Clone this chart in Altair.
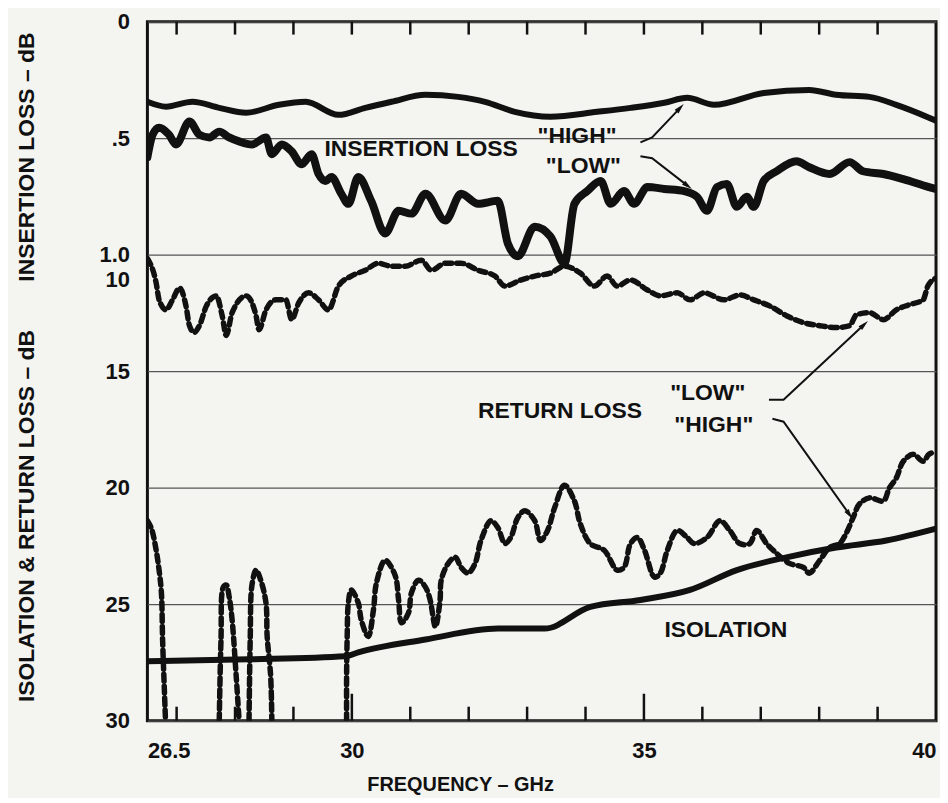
import math
import altair as alt
import pandas as pd

# ---------------- values ----------------
# Insertion loss (dB, top panel 0 .. 1.0 dB)
IL_HIGH_GHZ = [26.50, 26.82, 27.27, 27.73, 28.19, 28.75, 29.21, 29.77, 30.23, 30.68,
               31.26, 31.82, 32.28, 32.79, 33.40, 34.20, 34.77, 35.35, 35.74, 36.20,
               37.05, 37.83, 38.29, 38.86, 39.32, 39.88, 40.00]
IL_HIGH_DB = [0.344, 0.365, 0.344, 0.370, 0.391, 0.357, 0.344, 0.400, 0.370, 0.344,
              0.314, 0.323, 0.344, 0.387, 0.408, 0.387, 0.370, 0.348, 0.327, 0.357,
              0.306, 0.293, 0.314, 0.323, 0.357, 0.412, 0.425]

IL_LOW_GHZ = [26.50, 26.59, 26.70, 26.87, 26.99, 27.22, 27.39, 27.56, 27.73, 27.90,
              28.07, 28.29, 28.53, 28.63, 28.80, 28.97, 29.14, 29.31, 29.43, 29.55,
              29.65, 29.82, 29.94, 30.11, 30.33, 30.57, 30.80, 31.02, 31.26, 31.60,
              31.87, 32.16, 32.50, 32.67, 32.84, 33.13, 33.40, 33.64, 33.81, 34.03,
              34.26, 34.43, 34.66, 34.83, 35.06, 35.35, 35.69, 35.91, 36.08, 36.25,
              36.42, 36.59, 36.76, 36.88, 37.05, 37.27, 37.61, 37.83, 38.18, 38.52,
              38.75, 39.10, 39.44, 39.88, 40.00]
IL_LOW_DB = [0.582, 0.485, 0.455, 0.485, 0.527, 0.429, 0.485, 0.497, 0.472, 0.497,
             0.514, 0.527, 0.497, 0.569, 0.527, 0.557, 0.612, 0.569, 0.654, 0.684,
             0.667, 0.739, 0.782, 0.667, 0.769, 0.909, 0.812, 0.824, 0.739, 0.854,
             0.739, 0.782, 0.769, 0.952, 1.007, 0.880, 0.922, 1.037, 0.782, 0.727,
             0.684, 0.782, 0.727, 0.782, 0.710, 0.718, 0.727, 0.752, 0.812, 0.710,
             0.697, 0.795, 0.752, 0.795, 0.684, 0.642, 0.599, 0.625, 0.654, 0.603,
             0.642, 0.654, 0.676, 0.710, 0.718]

# Return loss (dB, bottom panel 10 .. 30 dB)
RL_LOW_GHZ = [26.50, 26.65, 26.70, 26.82, 26.93, 27.05, 27.16, 27.22, 27.30, 27.39,
              27.51, 27.68, 27.78, 27.85, 27.95, 28.19, 28.36, 28.41, 28.53, 28.70,
              28.87, 28.97, 29.09, 29.26, 29.43, 29.60, 29.77, 29.99, 30.23, 30.45,
              30.68, 30.91, 31.19, 31.36, 31.60, 31.87, 32.16, 32.45, 32.62, 32.89,
              33.13, 33.40, 33.64, 33.91, 34.15, 34.37, 34.54, 34.77, 35.06, 35.28,
              35.57, 35.79, 36.03, 36.37, 36.64, 36.88, 37.15, 37.44, 37.73, 38.01,
              38.29, 38.52, 38.64, 38.86, 39.10, 39.32, 39.54, 39.78, 39.86, 40.00]
RL_LOW_DB = [10.16, 11.22, 11.94, 12.37, 11.94, 11.43, 12.20, 13.05, 13.34, 13.05,
             12.20, 11.77, 12.62, 13.47, 12.49, 11.77, 12.62, 13.22, 12.37, 11.94,
             11.94, 12.79, 12.07, 11.64, 11.94, 12.37, 11.35, 10.92, 10.67, 10.37,
             10.50, 10.50, 10.24, 10.67, 10.37, 10.37, 10.67, 10.92, 11.35, 11.09,
             10.92, 10.79, 10.50, 10.79, 11.35, 10.92, 11.35, 11.09, 11.52, 11.77,
             11.64, 11.94, 11.64, 11.94, 11.73, 11.94, 12.20, 12.62, 12.92, 13.05,
             13.13, 13.05, 12.58, 12.49, 12.79, 12.37, 12.15, 11.94, 11.35, 11.01]

# "HIGH" return loss: the trace runs off the 30 dB edge, so it comes in pieces
RL_HIGH_SEG = ([1] * 8) + ([2] * 8) + ([3] * 9) + ([4] * 80)
RL_HIGH_GHZ = [26.50, 26.57, 26.65, 26.70, 26.74, 26.76, 26.79, 26.81,
               27.73, 27.76, 27.80, 27.85, 27.90, 27.95, 28.02, 28.07,
               28.24, 28.26, 28.29, 28.36, 28.44, 28.53, 28.55, 28.61, 28.63,
               29.91, 29.91, 29.92, 29.94, 29.99, 30.11, 30.16, 30.28, 30.37, 30.42,
               30.57, 30.74, 30.80, 30.85, 30.97, 31.02, 31.14, 31.26, 31.34, 31.43,
               31.51, 31.53, 31.65, 31.77, 31.87, 31.99, 32.11, 32.21, 32.38, 32.50,
               32.62, 32.72, 32.84, 32.96, 33.13, 33.23, 33.35, 33.47, 33.64, 33.81,
               33.91, 34.08, 34.32, 34.54, 34.66, 34.77, 34.89, 35.01, 35.18, 35.28,
               35.40, 35.57, 35.74, 35.86, 36.08, 36.30, 36.47, 36.64, 36.81, 36.93,
               37.10, 37.27, 37.49, 37.73, 37.83, 38.01, 38.18, 38.35, 38.46, 38.58,
               38.69, 38.86, 39.10, 39.20, 39.32, 39.44, 39.61, 39.78, 39.88, 40.00]
RL_HIGH_DB = [21.42, 21.76, 22.69, 23.54, 24.52, 26.52, 28.64, 30.00,
              30.00, 26.52, 24.27, 24.18, 24.69, 25.67, 28.09, 30.00,
              30.00, 26.52, 24.18, 23.54, 23.97, 24.95, 26.39, 28.09, 30.00,
              30.00, 28.09, 26.39, 24.95, 24.39, 24.95, 25.67, 26.39, 25.24, 24.10,
              23.12, 23.76, 24.82, 25.80, 25.37, 24.52, 23.97, 24.27, 24.82, 25.97,
              24.82, 23.97, 23.25, 22.99, 23.42, 23.67, 23.25, 22.27, 21.42, 21.72,
              22.40, 22.14, 21.29, 20.99, 21.42, 22.27, 21.84, 20.87, 19.90, 20.57,
              21.55, 22.40, 22.69, 23.54, 23.42, 22.40, 22.14, 22.69, 23.84, 23.67,
              22.69, 21.84, 22.14, 22.40, 22.14, 21.42, 21.84, 22.40, 22.40, 21.84,
              22.40, 22.82, 23.25, 23.42, 23.67, 23.12, 22.57, 22.40, 21.97, 21.29,
              20.70, 20.44, 20.57, 20.02, 19.59, 18.87, 18.57, 18.87, 18.57, 18.44]

# Isolation (dB)
ISO_GHZ = [26.50, 28.24, 29.89, 30.11, 31.26, 32.50, 33.30, 34.08, 34.94, 35.79,
           36.59, 37.44, 38.29, 39.15, 40.00]
ISO_DB = [27.45, 27.37, 27.24, 27.07, 26.52, 26.05, 26.05, 25.12, 24.82, 24.39,
          23.54, 22.99, 22.57, 22.27, 21.76]

# Axes
X_LABELS = [26.5, 30, 35, 40]
Y_TICKS = [0, 5, 10, 15, 20, 25, 30]   # shared position: IL x10 on top, RL below
IL_TO_POS = 10                           # 0.1 dB insertion loss <-> 1 dB return loss
MINOR_TICKS = [27, 28, 29, 31, 32, 33, 34, 36, 37, 38, 39]
MAJOR_TICKS = [30, 35]
TOP_TICKS = [27, 28, 29, 30, 31, 32, 33, 34, 35, 36, 37, 38, 39]

# Annotations (frequency, shared position)
NOTE_TEXT = ["INSERTION LOSS", '"HIGH"', '"LOW"', "RETURN LOSS", '"LOW"', '"HIGH"', "ISOLATION"]
NOTE_GHZ = [29.53, 33.18, 33.32, 32.16, 35.45, 35.52, 35.35]
NOTE_POS = [5.48, 4.93, 6.20, 16.70, 15.94, 17.30, 26.09]

ARROW_ID = [1, 1, 1, 2, 2, 2, 3, 3, 3, 4, 4, 4]
ARROW_GHZ = [34.94, 35.14, 35.62, 34.94, 35.14, 35.75, 37.14, 37.39, 38.77, 37.20, 37.39, 38.52]
ARROW_POS = [5.18, 4.97, 3.70, 5.78, 5.86, 7.05, 16.23, 16.23, 13.00, 17.04, 17.17, 21.16]

# ---------------- styling ----------------
W, H = 792, 702
PAD_TOP = 12
INK = "#111111"
BG = "#f4f4f1"
FONT = "Liberation Sans"
X_DOMAIN = [26.5, 40]
Y_DOMAIN = [0, 30]

x_axis = alt.Axis(
    values=X_LABELS, labelExpr="'' + datum.value", title="FREQUENCY – GHz",
    ticks=False, domain=False, grid=False, labelFlush=True, labelPadding=20,
    labelFont=FONT, labelFontSize=22, labelFontWeight="bold", labelColor=INK,
    titleFont=FONT, titleFontSize=20, titleFontWeight="bold", titleColor=INK,
    titleX=314, titleY=64, titleAlign="center", titleBaseline="middle",
)
y_axis = alt.Axis(
    values=Y_TICKS,
    labelExpr="datum.value == 0 ? '0' : datum.value == 5 ? '.5' : datum.value == 10 ? ['1.0', '10'] : '' + datum.value",
    title="ISOLATION & RETURN LOSS – dB",
    ticks=False, domain=False, grid=True, gridColor="#555555", gridWidth=1.4,
    labelPadding=18, labelOverlap=False, labelLineHeight=25,
    labelFont=FONT, labelFontSize=22, labelFontWeight="bold", labelColor=INK,
    titleFont=FONT, titleFontSize=23, titleFontWeight="bold", titleColor=INK,
    titleX=-121, titleY=496, titleAngle=270, titleAlign="center", titleBaseline="middle",
)

xs = alt.Scale(domain=X_DOMAIN, nice=False, zero=False)
ys = alt.Scale(domain=Y_DOMAIN, nice=False, zero=False, reverse=True)
X = alt.X("ghz:Q", scale=xs, axis=x_axis)
Y = alt.Y("pos:Q", scale=ys, axis=y_axis)


def frame(ghz, val, factor=1.0, seg=None):
    d = pd.DataFrame({"ghz": ghz, "pos": [v * factor for v in val]})
    d["i"] = range(len(d))
    d["seg"] = seg if seg is not None else [0] * len(d)
    return d


def curve(df, width, dash=None, interp="monotone"):
    kw = dict(color=INK, strokeWidth=width, strokeCap="round", strokeJoin="round",
              clip=True, interpolate=interp)
    if dash:
        kw["strokeDash"] = dash
    return alt.Chart(df).mark_line(**kw).encode(x=X, y=Y, detail="seg:N", order="i:Q")


il_high = curve(frame(IL_HIGH_GHZ, IL_HIGH_DB, IL_TO_POS), 6)
il_low = curve(frame(IL_LOW_GHZ, IL_LOW_DB, IL_TO_POS), 8)
rl_low = curve(frame(RL_LOW_GHZ, RL_LOW_DB), 5.5, [7, 5])
rl_high = curve(frame(RL_HIGH_GHZ, RL_HIGH_DB, seg=RL_HIGH_SEG), 5.5, [7, 5], "catmull-rom")
iso = curve(frame(ISO_GHZ, ISO_DB), 6)

minor = alt.Chart(pd.DataFrame({"ghz": MINOR_TICKS})).mark_rule(color=INK, strokeWidth=2.5).encode(
    x=X, y=alt.value(H), y2=alt.value(H - 14))
major = alt.Chart(pd.DataFrame({"ghz": MAJOR_TICKS})).mark_rule(color=INK, strokeWidth=2.5).encode(
    x=X, y=alt.value(H), y2=alt.value(H - 27))
top = alt.Chart(pd.DataFrame({"ghz": TOP_TICKS})).mark_rule(color=INK, strokeWidth=2.5).encode(
    x=X, y=alt.value(0), y2=alt.value(13))

notes = alt.Chart(pd.DataFrame({"ghz": NOTE_GHZ, "pos": NOTE_POS, "t": NOTE_TEXT})).mark_text(
    align="left", baseline="middle", font=FONT, fontSize=23, fontWeight="bold", color=INK
).encode(x=X, y=Y, text="t:N")

il_title = alt.Chart(pd.DataFrame({"t": ["INSERTION LOSS – dB"]})).mark_text(
    angle=270, align="center", baseline="middle", font=FONT, fontSize=23, fontWeight="bold", color=INK
).encode(x=alt.value(-121), y=alt.value(136), text="t:N")

arrows_df = pd.DataFrame({"id": ARROW_ID, "ghz": ARROW_GHZ, "pos": ARROW_POS})
arrows_df["i"] = range(len(arrows_df))
arrow_lines = alt.Chart(arrows_df).mark_line(color=INK, strokeWidth=2).encode(
    x=X, y=Y, detail="id:N", order="i:Q")

px_per_ghz = W / (X_DOMAIN[1] - X_DOMAIN[0])
px_per_pos = H / (Y_DOMAIN[1] - Y_DOMAIN[0])
heads = []
for aid in sorted(set(ARROW_ID)):
    pts = arrows_df[arrows_df["id"] == aid]
    (g0, p0), (g1, p1) = pts[["ghz", "pos"]].values[-2], pts[["ghz", "pos"]].values[-1]
    dx = (g1 - g0) * px_per_ghz
    dy = (p1 - p0) * px_per_pos
    ang = math.degrees(math.atan2(dx, -dy)) % 360
    heads.append({"ghz": g1, "pos": p1, "angle": ang})
arrow_heads = alt.Chart(pd.DataFrame(heads)).mark_point(
    shape="M0,-1L0.5,1L-0.5,1Z", filled=True, size=110, color=INK, opacity=1
).encode(x=X, y=Y, angle=alt.Angle("angle:Q", scale=None))

chart = alt.layer(
    minor, major, top, iso, rl_high, rl_low, il_low, il_high,
    arrow_lines, arrow_heads, notes, il_title,
).properties(
    width=W, height=H, background=BG,
    padding={"left": 140, "top": PAD_TOP, "right": 4, "bottom": 76},
    autosize=alt.AutoSizeParams(type="none"),
).configure_view(stroke=INK, strokeWidth=3)

chart.save("out.html", embed_options={"renderer": "svg", "actions": False})
